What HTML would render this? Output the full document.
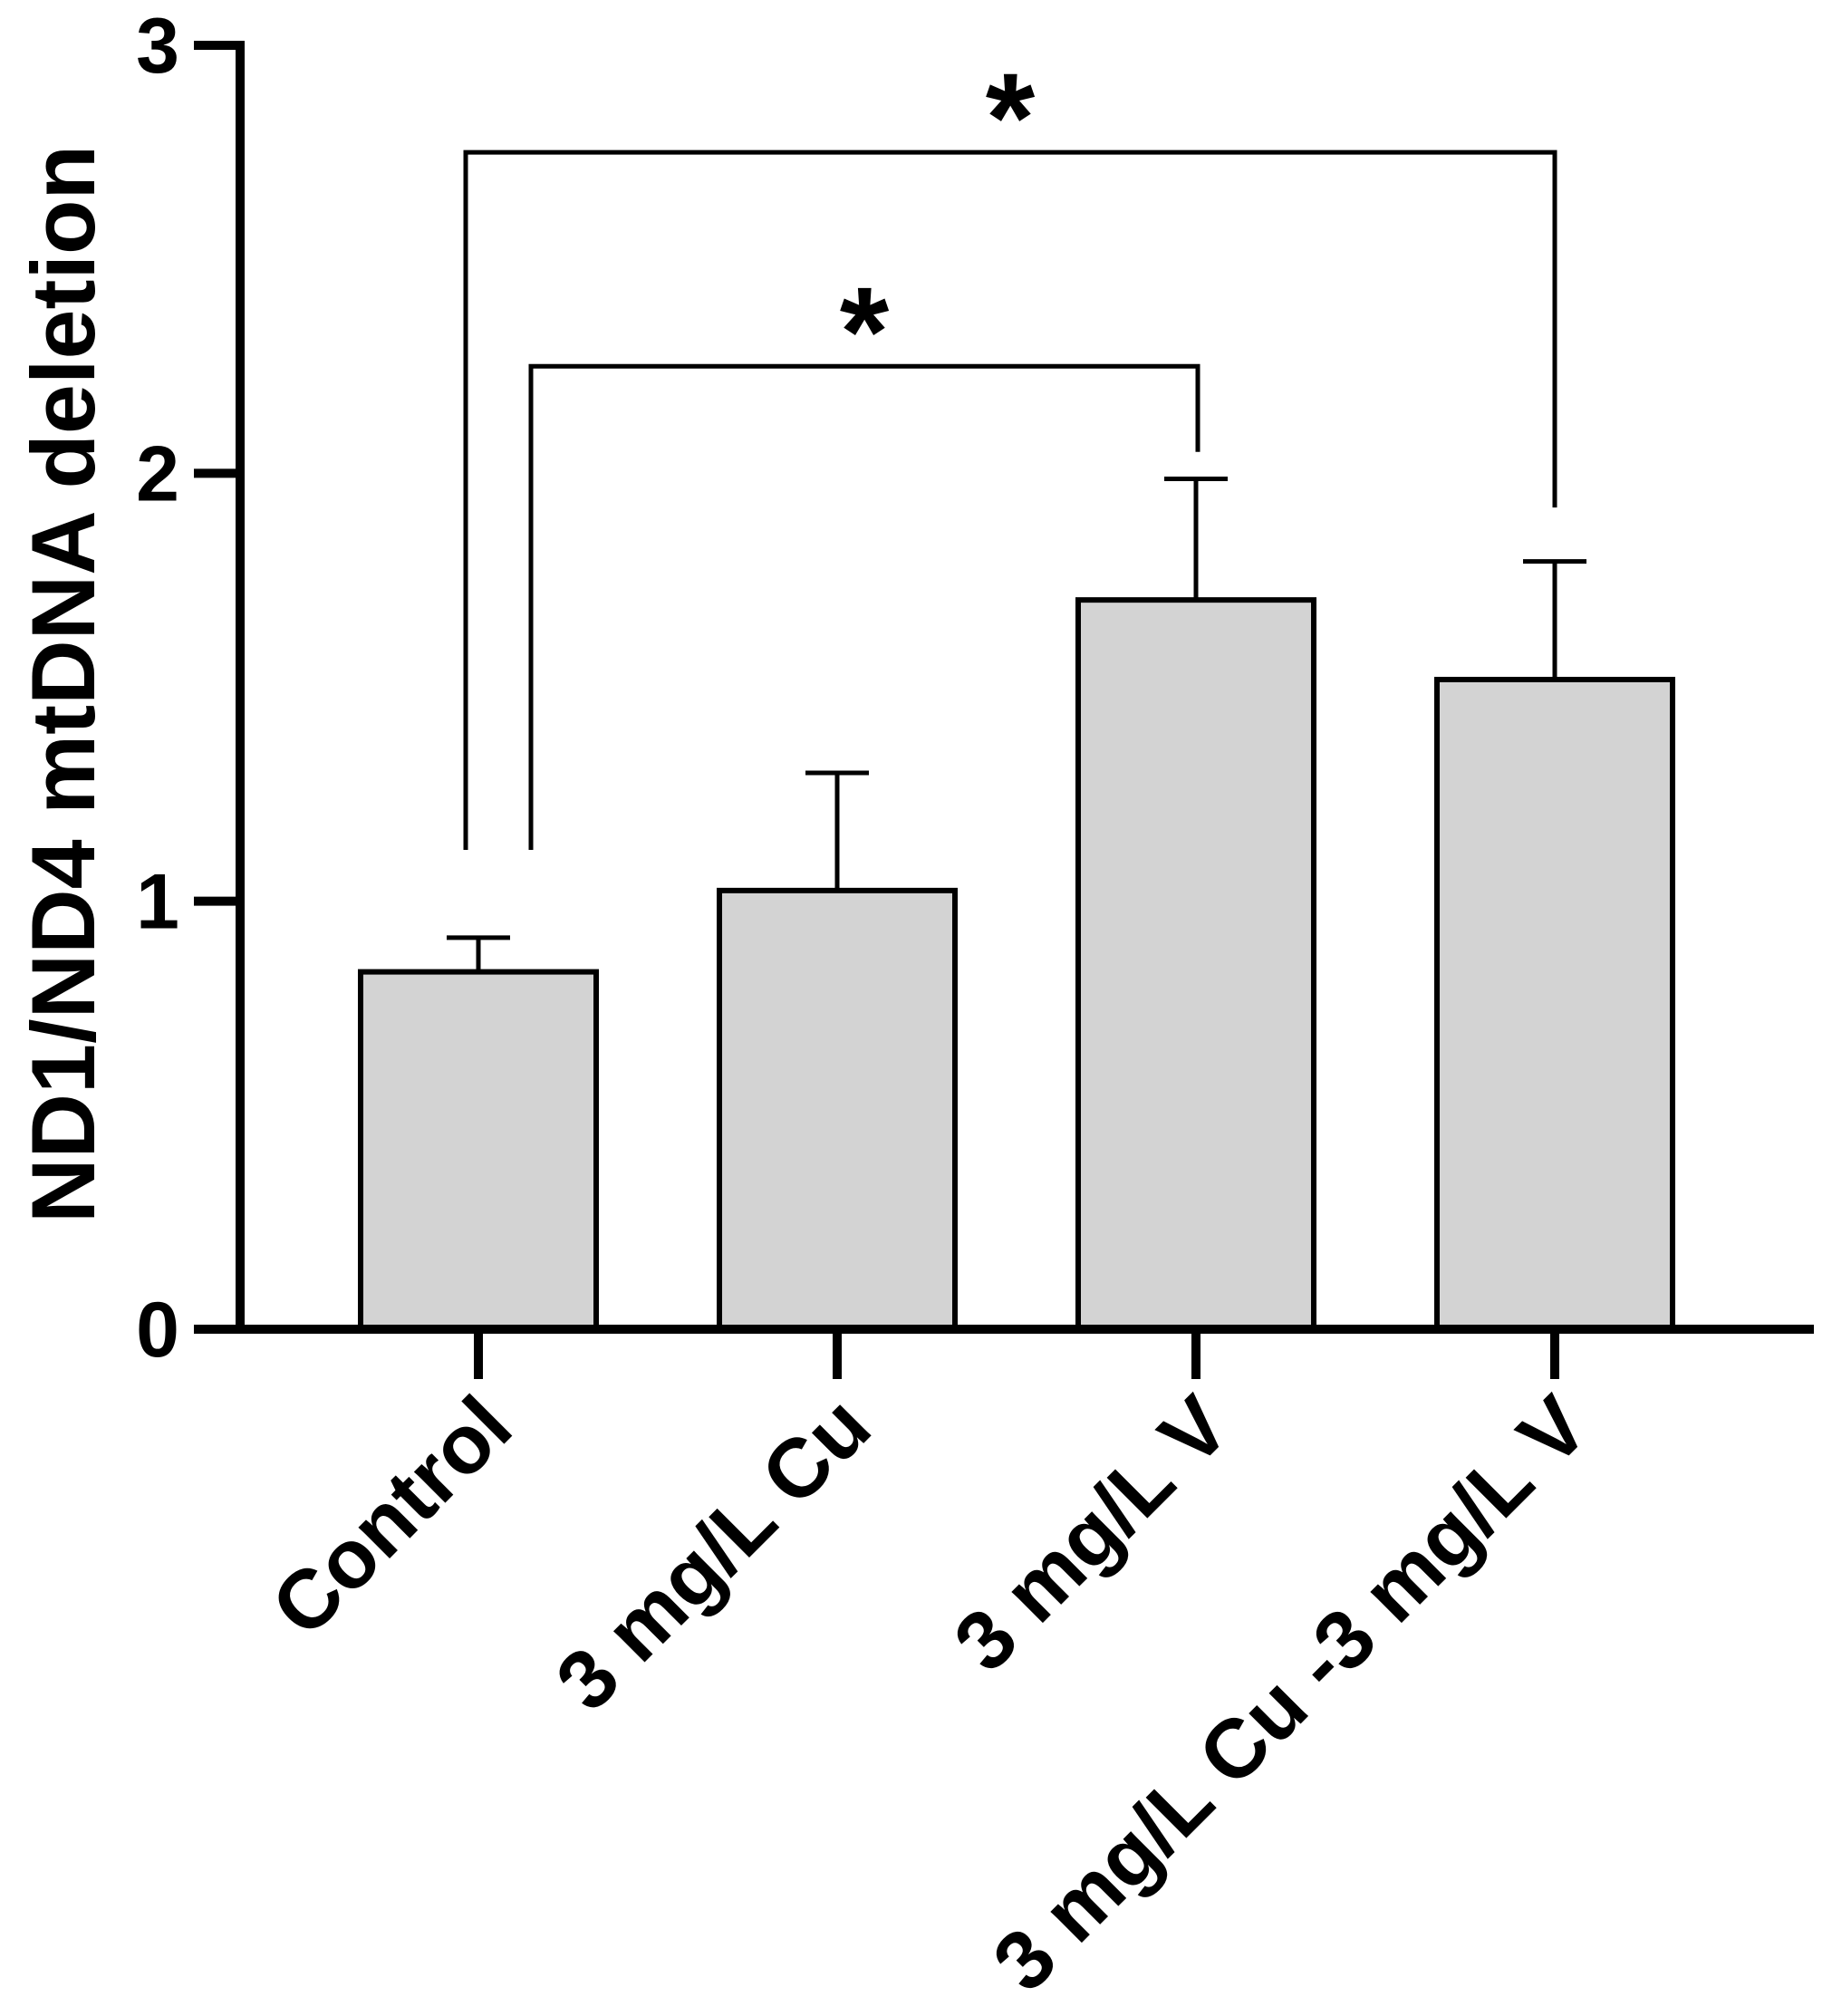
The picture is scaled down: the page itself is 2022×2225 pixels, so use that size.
<!DOCTYPE html>
<html><head><meta charset="utf-8"><style>
html,body{margin:0;padding:0;background:#fff;}
svg{display:block;font-family:"Liberation Sans",Arial,sans-serif;font-weight:bold;}
</style></head><body>
<svg id="chart" width="2022" height="2225" viewBox="0 0 2022 2225" xmlns="http://www.w3.org/2000/svg"></svg>
<script>
const categories = ["Control", "3 mg/L Cu", "3 mg/L V", "3 mg/L Cu -3 mg/L V"];
const means = [0.835, 1.025, 1.704, 1.518];
const errors = [0.08, 0.275, 0.283, 0.276];
const yTicks = [0, 1, 2, 3];
const brackets = [[0, 2, 2.25, 1.12, 2.05], [0, 3, 2.75, 1.12, 1.92]];

const NS = "http://www.w3.org/2000/svg";
const svg = document.getElementById("chart");
const y0 = 1467, yTop = 50, yMax = 3;
const yS = v => y0 - (y0 - yTop) * v / yMax;
const x0 = 528, dx = 396;
const xS = i => x0 + dx * i;
const bw = 260;
function mk(tag, attrs, parent) {
  const e = document.createElementNS(NS, tag);
  for (const k in attrs) e.setAttribute(k, attrs[k]);
  (parent || svg).appendChild(e);
  return e;
}
means.forEach((m, i) => {
  const cx = xS(i), top = yS(m), et = yS(m + errors[i]);
  const l = mk("line", {x1: cx, x2: cx, y1: top, y2: et, stroke: "#000", "stroke-width": 5});
  
  
  const c = mk("line", {x1: cx - 35, x2: cx + 35, y1: et, y2: et, stroke: "#000", "stroke-width": 5});
  
  
  const r = mk("rect", {x: cx - bw / 2, y: top, width: bw, height: y0 - top, fill: "#d3d3d3", stroke: "#000", "stroke-width": 6});
  
  
});
const ya = mk("line", {x1: 265, x2: 265, y1: yTop - 5, y2: y0 + 5, stroke: "#000", "stroke-width": 10});


const xa = mk("line", {x1: 214, x2: 2002, y1: y0, y2: y0, stroke: "#000", "stroke-width": 10});


yTicks.forEach(t => {
  const y = yS(t);
  const tl = mk("line", {x1: 214, x2: 265, y1: y, y2: y, stroke: "#000", "stroke-width": 10});
  
  
  const tx = mk("text", {x: 198, y: y + 30, "text-anchor": "end", "font-size": 86});
  tx.textContent = t;
  
  
});
categories.forEach((c, i) => {
  const x = xS(i);
  const tl = mk("line", {x1: x, x2: x, y1: y0, y2: 1522, stroke: "#000", "stroke-width": 10});
  
  
  const tx = mk("text", {x: x + 42, y: 1580, "text-anchor": "end", "font-size": 92, transform: `rotate(-45 ${x + 42} 1580)`});
  tx.textContent = c;
  
  
});
brackets.forEach((b, k) => {
  const xr = xS(b[1]) + (k === 0 ? 2 : 0);
  const xL = k === 0 ? 586 : 514;
  const yb = yS(b[2]);
  const p = mk("polyline", {points: `${xL},${yS(b[3])} ${xL},${yb} ${xr},${yb} ${xr},${yS(b[4])}`, fill: "none", stroke: "#000", "stroke-width": 5});
  
  
  const s = mk("text", {x: (xL + xr) / 2, y: yb + 10, "text-anchor": "middle", "font-size": 140});
  s.textContent = "*";
  
  
});
const title = mk("text", {x: 0, y: 0, "text-anchor": "middle", "font-size": 99, transform: "translate(104 755) rotate(-90)"});
title.textContent = "ND1/ND4 mtDNA deletion";


</script>
</body></html>
